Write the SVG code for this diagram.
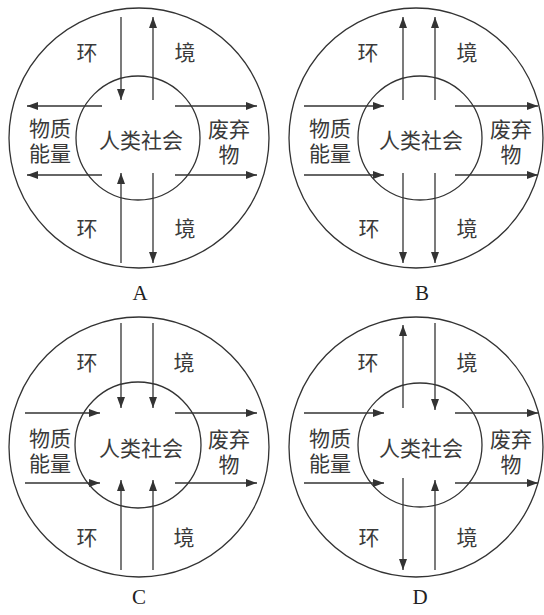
<svg xmlns="http://www.w3.org/2000/svg" width="544" height="615" viewBox="0 0 544 615">
<style>
.c{fill:none;stroke:#333;stroke-width:1.3}
.a{stroke:#333;stroke-width:1.3;marker-end:url(#ah)}
.t{font-family:"Liberation Sans","Noto Sans CJK SC","Noto Sans CJK JP",sans-serif;font-size:21px;fill:#3a3a3a;text-anchor:middle;dominant-baseline:central}
.l{font-family:"Liberation Serif",serif;font-size:21px;fill:#222;text-anchor:middle;dominant-baseline:central}
</style>
<defs>
<marker id="ah" markerUnits="userSpaceOnUse" markerWidth="12" markerHeight="8" refX="11" refY="4" orient="auto">
<path d="M0,0 L11,4 L0,8 z" fill="#333"/>
</marker>
</defs>
<rect width="544" height="615" fill="#fff"/>

<g id="diagramA">
<g id="A-env"><circle class="c" cx="139" cy="138" r="130"/></g>
<g id="A-society"><circle class="c" cx="138" cy="138" r="62"/><text class="t" x="141" y="140">人类社会</text></g>
<g id="A-material"><text class="t" x="50" y="128">物质</text><text class="t" x="50" y="153">能量</text></g>
<g id="A-waste"><text class="t" x="229" y="129">废弃</text><text class="t" x="229" y="154">物</text></g>
<g id="A-labels"><text class="t" x="87" y="52">环</text><text class="t" x="185" y="52">境</text><text class="t" x="87" y="228">环</text><text class="t" x="185" y="228">境</text></g>
<g id="A-connectors">
<line class="a" x1="121" y1="17" x2="121" y2="100"/>
<line class="a" x1="153" y1="100" x2="153" y2="17"/>
<line class="a" x1="102" y1="106" x2="27" y2="106"/>
<line class="a" x1="102" y1="175" x2="27" y2="175"/>
<line class="a" x1="175" y1="106" x2="257" y2="106"/>
<line class="a" x1="175" y1="175" x2="257" y2="175"/>
<line class="a" x1="121" y1="263" x2="121" y2="173"/>
<line class="a" x1="153" y1="173" x2="153" y2="263"/>
</g>
<text class="l" x="140" y="293">A</text>
</g>

<g id="diagramB">
<g id="B-env"><ellipse class="c" cx="416" cy="138" rx="127" ry="130"/></g>
<g id="B-society"><circle class="c" cx="420" cy="138" r="62"/><text class="t" x="421" y="140">人类社会</text></g>
<g id="B-material"><text class="t" x="330" y="128">物质</text><text class="t" x="330" y="153">能量</text></g>
<g id="B-waste"><text class="t" x="511" y="129">废弃</text><text class="t" x="511" y="154">物</text></g>
<g id="B-labels"><text class="t" x="368" y="52">环</text><text class="t" x="467" y="52">境</text><text class="t" x="369" y="228">环</text><text class="t" x="467" y="228">境</text></g>
<g id="B-connectors">
<line class="a" x1="403" y1="100" x2="403" y2="17"/>
<line class="a" x1="435" y1="100" x2="435" y2="17"/>
<line class="a" x1="304" y1="106" x2="384" y2="106"/>
<line class="a" x1="304" y1="175" x2="384" y2="175"/>
<line class="a" x1="455" y1="106" x2="538" y2="106"/>
<line class="a" x1="455" y1="175" x2="538" y2="175"/>
<line class="a" x1="403" y1="173" x2="403" y2="263"/>
<line class="a" x1="435" y1="173" x2="435" y2="263"/>
</g>
<text class="l" x="422" y="293">B</text>
</g>

<g id="diagramC">
<g id="C-env"><circle class="c" cx="139" cy="447" r="130"/></g>
<g id="C-society"><circle class="c" cx="138" cy="445" r="63"/><text class="t" x="141" y="448">人类社会</text></g>
<g id="C-material"><text class="t" x="50" y="438">物质</text><text class="t" x="50" y="463">能量</text></g>
<g id="C-waste"><text class="t" x="229" y="439">废弃</text><text class="t" x="229" y="464">物</text></g>
<g id="C-labels"><text class="t" x="87" y="362">环</text><text class="t" x="184" y="362">境</text><text class="t" x="87" y="537">环</text><text class="t" x="184" y="537">境</text></g>
<g id="C-connectors">
<line class="a" x1="121" y1="323" x2="121" y2="408"/>
<line class="a" x1="153" y1="323" x2="153" y2="408"/>
<line class="a" x1="25" y1="413" x2="100" y2="413"/>
<line class="a" x1="25" y1="483" x2="100" y2="483"/>
<line class="a" x1="175" y1="413" x2="257" y2="413"/>
<line class="a" x1="175" y1="483" x2="257" y2="483"/>
<line class="a" x1="121" y1="570" x2="121" y2="480"/>
<line class="a" x1="153" y1="570" x2="153" y2="480"/>
</g>
<text class="l" x="139" y="597">C</text>
</g>

<g id="diagramD">
<g id="D-env"><ellipse class="c" cx="416" cy="447" rx="127" ry="130"/></g>
<g id="D-society"><circle class="c" cx="420" cy="445" r="62"/><text class="t" x="421" y="448">人类社会</text></g>
<g id="D-material"><text class="t" x="330" y="438">物质</text><text class="t" x="330" y="463">能量</text></g>
<g id="D-waste"><text class="t" x="511" y="439">废弃</text><text class="t" x="511" y="464">物</text></g>
<g id="D-labels"><text class="t" x="368" y="362">环</text><text class="t" x="467" y="362">境</text><text class="t" x="369" y="537">环</text><text class="t" x="467" y="537">境</text></g>
<g id="D-connectors">
<line class="a" x1="403" y1="408" x2="403" y2="325"/>
<line class="a" x1="435" y1="323" x2="435" y2="410"/>
<line class="a" x1="304" y1="413" x2="384" y2="413"/>
<line class="a" x1="304" y1="483" x2="384" y2="483"/>
<line class="a" x1="455" y1="413" x2="538" y2="413"/>
<line class="a" x1="455" y1="483" x2="538" y2="483"/>
<line class="a" x1="403" y1="478" x2="403" y2="570"/>
<line class="a" x1="435" y1="570" x2="435" y2="480"/>
</g>
<text class="l" x="420" y="597">D</text>
</g>
</svg>
